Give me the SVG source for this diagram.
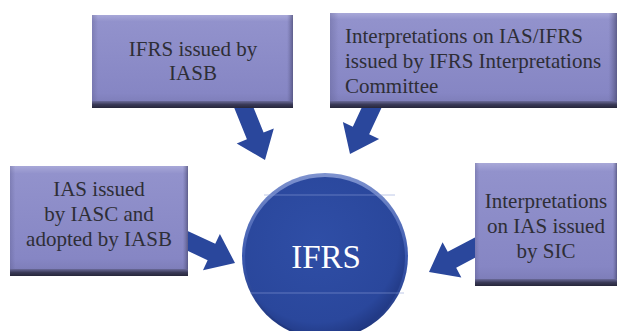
<svg xmlns="http://www.w3.org/2000/svg" width="629" height="331" viewBox="0 0 629 331">
  <style>
    .box-text { font-family: "Liberation Serif", "Times New Roman", serif; font-size: 21px; fill: #2e2e36; }
    .hub-text { font-family: "Liberation Serif", "Times New Roman", serif; font-size: 33px; fill: #ffffff; }
    .arrow { fill: #2a479c; }
  </style>
  <defs>
    <linearGradient id="boxFill" x1="0" y1="0" x2="0" y2="1">
      <stop offset="0" stop-color="#a8a8d8"/>
      <stop offset="0.07" stop-color="#9292cc"/>
      <stop offset="0.85" stop-color="#8686c4"/>
      <stop offset="1" stop-color="#7a7ab4"/>
    </linearGradient>
    <linearGradient id="boxSide" x1="0" y1="0" x2="1" y2="0">
      <stop offset="0" stop-color="#5a5a8a" stop-opacity="0.35"/>
      <stop offset="0.03" stop-color="#5a5a8a" stop-opacity="0"/>
      <stop offset="0.97" stop-color="#5a5a8a" stop-opacity="0"/>
      <stop offset="1" stop-color="#3c3c60" stop-opacity="0.6"/>
    </linearGradient>
    <linearGradient id="boxBase" x1="0" y1="0" x2="0" y2="1">
      <stop offset="0" stop-color="#6a6a98"/>
      <stop offset="0.5" stop-color="#3a3a58"/>
      <stop offset="1" stop-color="#26263a"/>
    </linearGradient>
    <radialGradient id="hubFill" cx="0.45" cy="0.4" r="0.6">
      <stop offset="0" stop-color="#2f4ea6"/>
      <stop offset="0.85" stop-color="#2a479c"/>
      <stop offset="1" stop-color="#223a86"/>
    </radialGradient>
    <linearGradient id="hubRim" x1="0" y1="0" x2="0" y2="1">
      <stop offset="0" stop-color="#7f93cf"/>
      <stop offset="0.5" stop-color="#3a58ae"/>
      <stop offset="1" stop-color="#1c3278"/>
    </linearGradient>
    <!-- block arrow pointing along +x, tip at origin -->
    <path id="blockArrow" d="M -60 -9 L -26 -9 L -26 -20 L 0 0 L -26 20 L -26 9 L -60 9 Z"/>
  </defs>

  <!-- connectors -->
  <g id="connectors" class="arrow">
    <use href="#blockArrow" transform="translate(265,160) rotate(68)"/>
    <use href="#blockArrow" transform="translate(350,154) rotate(115)"/>
    <use href="#blockArrow" transform="translate(235,263) rotate(25)"/>
    <use href="#blockArrow" transform="translate(429,272) rotate(152)"/>
  </g>

  <g id="box-ifrs-iasb">
    <rect x="92" y="15" width="201" height="92" fill="url(#boxFill)"/>
    <rect x="92" y="15" width="201" height="92" fill="url(#boxSide)"/>
    <rect x="92" y="101" width="201" height="7" fill="url(#boxBase)"/>
    <text class="box-text" x="193" y="56" text-anchor="middle">IFRS issued by</text>
    <text class="box-text" x="193" y="80" text-anchor="middle">IASB</text>
  </g>

  <g id="box-interpretations-committee">
    <rect x="330" y="13" width="287" height="94" fill="url(#boxFill)"/>
    <rect x="330" y="13" width="287" height="94" fill="url(#boxSide)"/>
    <rect x="330" y="101" width="287" height="7" fill="url(#boxBase)"/>
    <text class="box-text" x="345" y="43">Interpretations on IAS/IFRS</text>
    <text class="box-text" x="345" y="68">issued by IFRS Interpretations</text>
    <text class="box-text" x="345" y="93">Committee</text>
  </g>

  <g id="box-ias-iasc">
    <rect x="10" y="166" width="178" height="109" fill="url(#boxFill)"/>
    <rect x="10" y="166" width="178" height="109" fill="url(#boxSide)"/>
    <rect x="10" y="269" width="178" height="7" fill="url(#boxBase)"/>
    <text class="box-text" x="99" y="196" text-anchor="middle">IAS issued</text>
    <text class="box-text" x="99" y="221" text-anchor="middle">by IASC and</text>
    <text class="box-text" x="99" y="246" text-anchor="middle">adopted by IASB</text>
  </g>

  <g id="box-sic">
    <rect x="475" y="163" width="142" height="122" fill="url(#boxFill)"/>
    <rect x="475" y="163" width="142" height="122" fill="url(#boxSide)"/>
    <rect x="475" y="279" width="142" height="7" fill="url(#boxBase)"/>
    <text class="box-text" x="546" y="208" text-anchor="middle">Interpretations</text>
    <text class="box-text" x="546" y="233" text-anchor="middle">on IAS issued</text>
    <text class="box-text" x="546" y="258" text-anchor="middle">by SIC</text>
  </g>

  <g id="hub-ifrs">
    <circle cx="325" cy="256" r="83" fill="url(#hubRim)"/>
    <circle cx="325" cy="257" r="80" fill="url(#hubFill)"/>
    <line x1="264" y1="195" x2="395" y2="195" stroke="#8ea0d8" stroke-width="0.8" opacity="0.7"/>
    <line x1="250" y1="293" x2="404" y2="293" stroke="#8ea0d8" stroke-width="0.8" opacity="0.7"/>
    <text class="hub-text" x="326" y="268" text-anchor="middle">IFRS</text>
  </g>
</svg>
